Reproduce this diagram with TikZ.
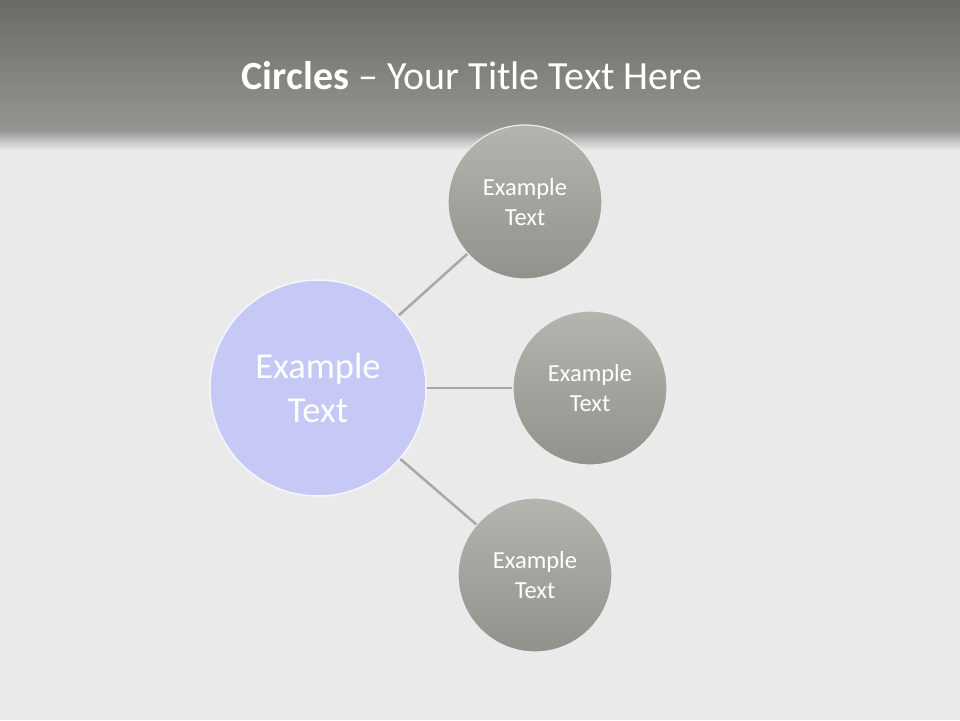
\documentclass[tikz,border=0pt]{standalone}
\usepackage{fontspec}
\setmainfont{Carlito}
\definecolor{bar}{HTML}{7A7A76}
\definecolor{bartop}{HTML}{6A6A66}
\definecolor{bg}{HTML}{EAEAEA}
\definecolor{lav}{HTML}{C6C8F6}
\definecolor{gry}{HTML}{A2A29C}
\definecolor{conn}{HTML}{A8A8A8}
\begin{document}
\begin{tikzpicture}[x=1pt,y=-1pt,
  small/.style={circle,minimum size=154pt,inner sep=0pt,draw=white!85!gray,line width=1.2pt,shading=axis,top color=gry!80!white,bottom color=gry!90!black,text=white,font=\fontsize{24.5}{30}\selectfont,align=center},
  big/.style={circle,minimum size=216pt,inner sep=0pt,draw=white!85!lav,line width=1.5pt,fill=lav,text=white,font=\fontsize{36.5}{44}\selectfont,align=center},
  link/.style={draw=conn,line width=2.5pt}]
\useasboundingbox (0,0) rectangle (960,720);
\fill[bg] (0,0) rectangle (960,720);
\shade[top color=bartop,bottom color=bar!80!white] (0,0) rectangle (960,130);
\shade[top color=bar!80!white,bottom color=bg] (0,130) rectangle (960,150);
\node[text=white,font=\fontsize{40}{46}\selectfont] (title) at (472,76) {\textbf{Circles} -- Your Title Text Here};
\node[big] (c) at (318,388) {Example\\Text};
\node[small] (a) at (525,202) {Example\\Text};
\node[small] (b) at (590,388) {Example\\Text};
\node[small] (d) at (535,575) {Example\\Text};
\draw[link] (c) -- (a);
\draw[link] (c) -- (b);
\draw[link] (c) -- (d);
\end{tikzpicture}
\end{document}
